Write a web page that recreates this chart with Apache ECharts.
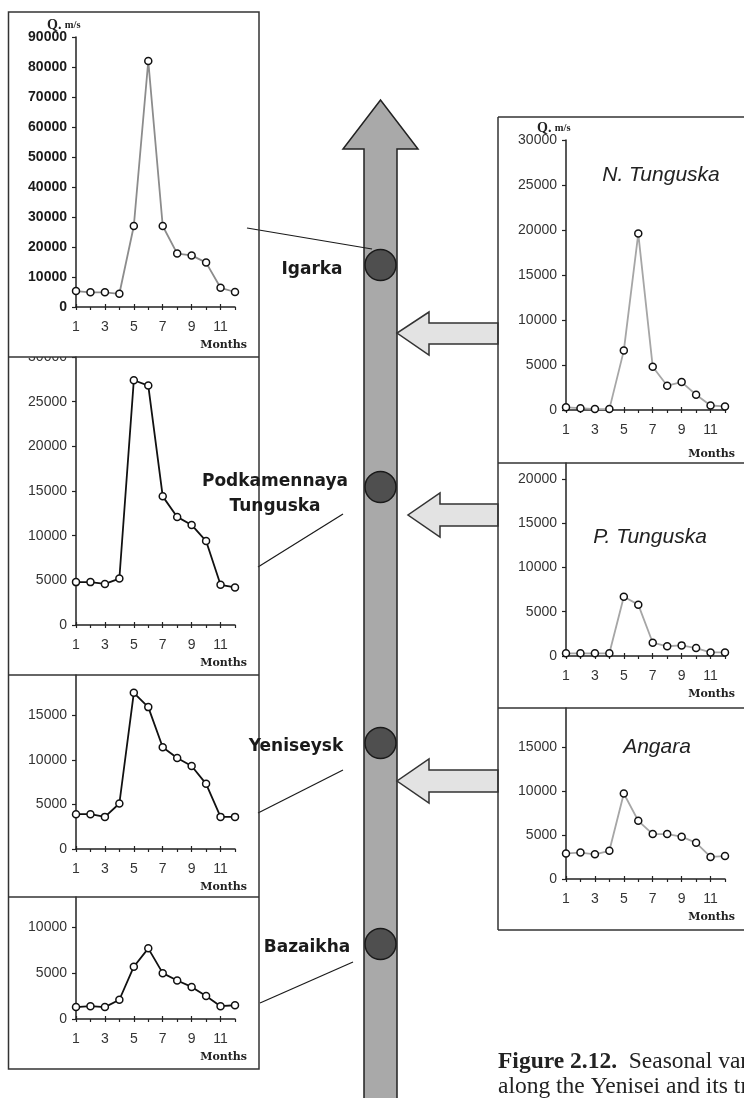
<!DOCTYPE html>
<html><head><meta charset="utf-8">
<script src="https://cdn.jsdelivr.net/npm/echarts@6/dist/echarts.min.js"></script>
<style>html,body{margin:0;padding:0;background:#fff}#c{width:744px;height:1098px}</style>
</head><body><div id="c"></div>
<script>
// ---- data (m3/s by month) ----
const months = ['1','2','3','4','5','6','7','8','9','10','11','12'];
const igarka       = [5300,4900,4900,4400,27000,82000,27000,17800,17200,14800,6400,5000];
const podkamennaya = [4800,4800,4600,5200,27400,26800,14400,12100,11200,9400,4500,4200];
const yeniseysk    = [3900,3900,3600,5100,17500,15900,11400,10200,9300,7300,3600,3600];
const bazaikha     = [1300,1400,1300,2100,5700,7700,5000,4200,3500,2500,1400,1500];
const nTunguska    = [300,200,100,100,6600,19600,4800,2700,3100,1700,500,400];
const pTunguska    = [300,300,300,300,6700,5800,1500,1100,1200,900,400,400];
const angara       = [2900,3000,2800,3200,9700,6600,5100,5100,4800,4100,2500,2600];
const stationLabels   = ['Igarka','Podkamennaya','Tunguska','Yeniseysk','Bazaikha'];
const tributaryLabels = ['N. Tunguska','P. Tunguska','Angara'];
const xName = 'Months';
const captionBold = 'Figure 2.12.';
const captionText1 = 'Seasonal variations of discharge';
const captionText2 = 'along the Yenisei and its tributaries';

// ---- layout ----
const W = 159;
const panels = [
  {data: igarka,       left:76,  top:37,  h:270, max:90000, interval:10000, line:'#8c8c8c', bold:true, q:true},
  {data: podkamennaya, left:76,  top:357, h:268, max:30000, interval:5000,  line:'#111'},
  {data: yeniseysk,    left:76,  top:675, h:174, max:19500, interval:5000,  line:'#111', hideMax:true},
  {data: bazaikha,     left:76,  top:897, h:122, max:13300, interval:5000,  line:'#111', hideMax:true},
  {data: nTunguska,    left:566, top:140, h:270, max:30000, interval:5000,  line:'#a6a6a6', q:true, title:0, ty:175, tx:661, mY:454},
  {data: pTunguska,    left:566, top:463, h:193, max:21800, interval:5000,  line:'#a6a6a6', hideMax:true, title:1, ty:537, tx:650},
  {data: angara,       left:566, top:708, h:171, max:19400, interval:5000,  line:'#a6a6a6', hideMax:true, title:2, ty:747, tx:657}
];

const grid = [], xAxis = [], yAxis = [], series = [], graphic = [];
const axisCol = '#222';
panels.forEach((p, i) => {
  grid.push({left:p.left, top:p.top, width:W, height:p.h, containLabel:false});
  xAxis.push({gridIndex:i, type:'category', data:months, boundaryGap:false, position:'bottom',
    axisLine:{show:true, onZero:false, lineStyle:{color:axisCol, width:1.5}},
    axisTick:{show:true, length:3, interval:0, lineStyle:{color:axisCol, width:1.2}},
    axisLabel:{interval:1, margin:13, fontSize:14, color:'#333', fontFamily:'Liberation Sans'},
    splitLine:{show:false}});
  xAxis.push({gridIndex:i, type:'category', data:months, boundaryGap:false, position:'bottom',
    axisLine:{show:false, onZero:false},
    axisTick:{show:true, inside:true, length:3, interval:1, lineStyle:{color:axisCol, width:1.2}},
    axisLabel:{show:false}, splitLine:{show:false}});
  yAxis.push({gridIndex:i, type:'value', min:0, max:p.max, interval:p.interval,
    axisLine:{show:true, lineStyle:{color:axisCol, width:1.5}},
    axisTick:{show:true, length:4, lineStyle:{color:axisCol, width:1.2}},
    splitLine:{show:false},
    axisLabel:{margin:9, fontSize:14, color: p.bold ? '#1a1a1a' : '#333', fontWeight: p.bold ? 'bold' : 'normal',
      fontFamily:'Liberation Sans', showMaxLabel: !p.hideMax, showMinLabel:true,
      formatter: v => String(v)}});
  series.push({type:'line', xAxisIndex:2*i, yAxisIndex:i, data:p.data, symbol:'circle', symbolSize:7,
    lineStyle:{color:p.line, width:1.8}, itemStyle:{color:'#fff', borderColor:'#111', borderWidth:1.5},
    emphasis:{disabled:true}, animation:false, z:3});
  const zeroY = p.top + p.h;
  const right = p.left < 300 ? 247 : 735;
  graphic.push({type:'text', z:40, style:{x:right, y: p.mY || (zeroY + 38), text:xName,
    font:'bold 11px "DejaVu Serif"', fill:'#222', align:'right', textAlign:'right', verticalAlign:'middle', textVerticalAlign:'middle'}});
  if (p.title !== undefined) {
    graphic.push({type:'text', z:40, style:{x:p.tx, y:p.ty, text:tributaryLabels[p.title],
      font:'italic 21px "Liberation Sans"', fill:'#222', align:'center', textAlign:'center', verticalAlign:'middle', textVerticalAlign:'middle'}});
  }
  if (p.q) {
    graphic.push({type:'text', z:40, style:{x:p.left - 29, y:p.top - 12, text:'{q|Q.} {u|m/s}',
      fill:'#222', verticalAlign:'middle', textVerticalAlign:'middle',
      rich:{q:{font:'bold 14px "Liberation Serif"', fill:'#222'}, u:{font:'bold 10.5px "Liberation Serif"', fill:'#222'}}}});
  }
});

// cover top half of the clipped 30000 label in the Podkamennaya panel
graphic.push({type:'rect', z:50, shape:{x:9.5, y:349, width:64, height:8}, style:{fill:'#fff'}});

// boxes
const boxStroke = {stroke:'#333', lineWidth:1.5, fill:'none'};
graphic.push({type:'rect', z:60, shape:{x:8.5, y:12, width:250.5, height:1057}, style:boxStroke});
[357, 675, 897].forEach(y => graphic.push({type:'line', z:60, shape:{x1:8.5, y1:y, x2:259, y2:y}, style:{stroke:'#333', lineWidth:1.5}}));
graphic.push({type:'line', z:60, shape:{x1:498, y1:117, x2:498, y2:930}, style:{stroke:'#333', lineWidth:1.5}});
[117, 463, 708, 930].forEach(y => graphic.push({type:'line', z:60, shape:{x1:498, y1:y, x2:744, y2:y}, style:{stroke:'#333', lineWidth:1.5}}));

// main river arrow
graphic.push({type:'polygon', z:10, shape:{points:[[364,1102],[364,149],[343,149],[380.5,100],[418,149],[397,149],[397,1102]]},
  style:{fill:'#a9a9a9', stroke:'#222', lineWidth:1.5}});
// tributary arrows
[[397,333,312,355,323,344,429],[408,515,493,537,504,526,440],[397,781,759,803,770,792,429]].forEach(a => {
  const [tx,ty,h1,h2,s1,s2,bx] = a;
  graphic.push({type:'polygon', z:11, shape:{points:[[498,s1],[bx,s1],[bx,h1],[tx,ty],[bx,h2],[bx,s2],[498,s2]]},
    style:{fill:'#e3e3e3', stroke:'#333', lineWidth:1.5}});
});
// station circles
[265, 487, 743, 944].forEach(cy => graphic.push({type:'circle', z:12, shape:{cx:380.5, cy:cy, r:15.5},
  style:{fill:'#4f4f4f', stroke:'#1a1a1a', lineWidth:1.5}}));
// connectors
[[247,228,372,249],[343,514,258,567],[343,770,258,813],[353,962,260,1003]].forEach(l =>
  graphic.push({type:'line', z:13, shape:{x1:l[0], y1:l[1], x2:l[2], y2:l[3]}, style:{stroke:'#1a1a1a', lineWidth:1.2}}));
// station labels
[[312,270],[275,482],[275,507],[296,747],[307,948]].forEach((pos, k) =>
  graphic.push({type:'text', z:70, style:{x:pos[0], y:pos[1], text:stationLabels[k], font:'bold 17px "DejaVu Sans"',
    fill:'#1a1a1a', align:'center', textAlign:'center', verticalAlign:'middle', textVerticalAlign:'middle'}}));
// caption
graphic.push({type:'text', z:70, style:{x:498, y:1062, text:'{b|' + captionBold + '}  ' + captionText1,
  font:'23.5px "Liberation Serif"', fill:'#222', verticalAlign:'middle', textVerticalAlign:'middle',
  rich:{b:{font:'bold 23.5px "Liberation Serif"', fill:'#222'}}}});
graphic.push({type:'text', z:70, style:{x:498, y:1087, text:captionText2,
  font:'23.5px "Liberation Serif"', fill:'#222', verticalAlign:'middle', textVerticalAlign:'middle'}});

const chart = echarts.init(document.getElementById('c'), null, {renderer:'canvas'});
chart.setOption({backgroundColor:'#fff', animation:false, grid, xAxis, yAxis, series, graphic});
</script></body></html>
